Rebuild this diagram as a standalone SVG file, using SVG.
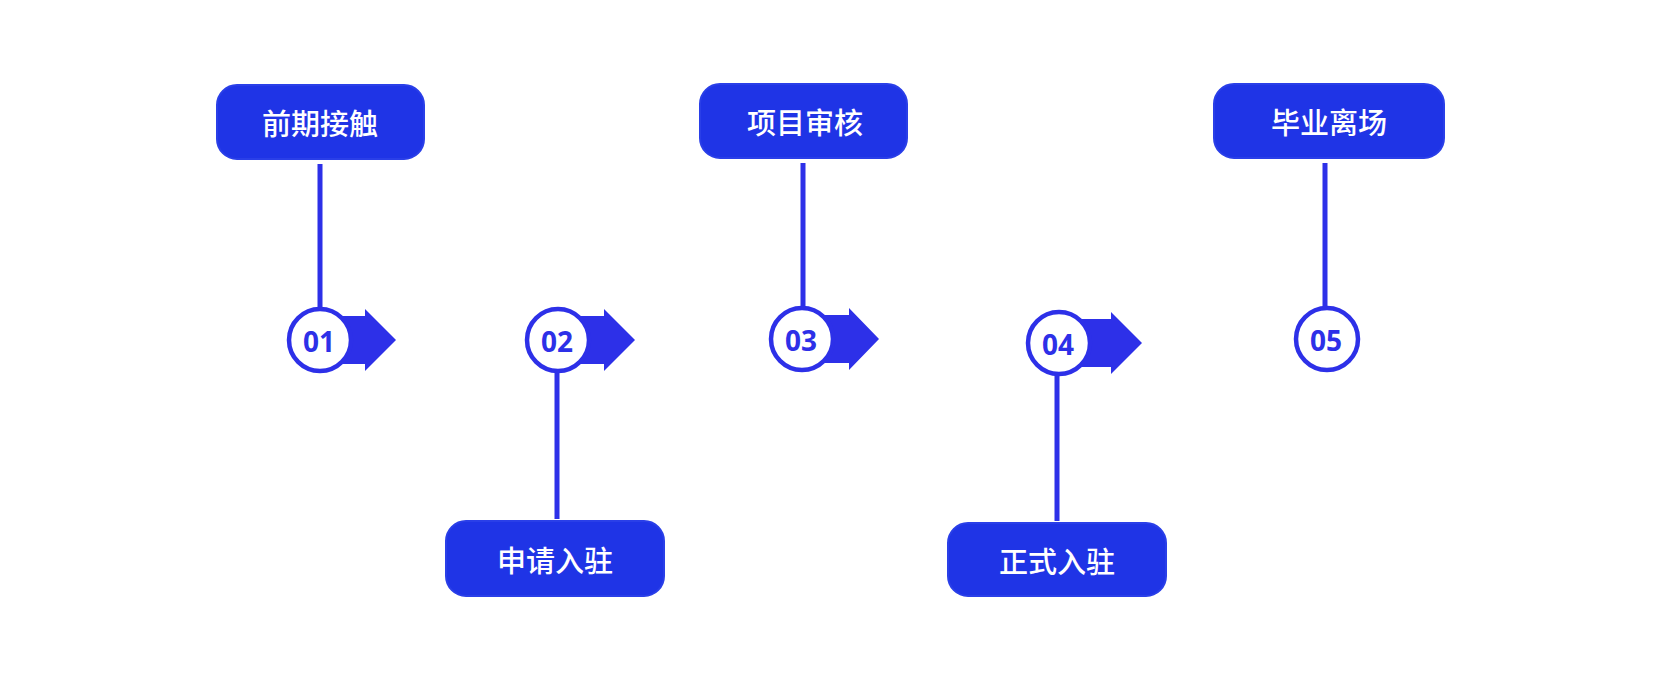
<svg xmlns="http://www.w3.org/2000/svg" width="1661" height="685" viewBox="0 0 1661 685">
<style>
.box{fill:#1f34e6;stroke:#2a3fe8;stroke-width:2}
.lbl{font-family:"Noto Sans CJK SC","Noto Sans",sans-serif;font-size:29px;fill:#fff;text-anchor:middle;dominant-baseline:central;font-weight:500}
.ln{stroke:#2d30e8;stroke-width:5}
.c{fill:#fff;stroke:#2d30e8;stroke-width:4.5}
.ar{fill:#2d30e8}
.num{font-family:"Noto Sans","Open Sans",sans-serif;font-size:28px;font-weight:bold;fill:#2d30e8;text-anchor:middle;dominant-baseline:central}
</style>
<rect width="1661" height="685" fill="#fff"/>
<g id="connectors">
<line class="ln" x1="320" y1="164" x2="320" y2="310"/>
<line class="ln" x1="557" y1="370" x2="557" y2="519"/>
<line class="ln" x1="803" y1="163" x2="803" y2="309"/>
<line class="ln" x1="1057" y1="374" x2="1057" y2="521"/>
<line class="ln" x1="1325" y1="163" x2="1325" y2="309"/>
</g>
<g id="n1"><rect class="box" x="217" y="85" width="207" height="74" rx="20"/><text class="lbl" x="320" y="122">前期接触</text></g>
<g id="n2"><rect class="box" x="446" y="521" width="218" height="75" rx="20"/><text class="lbl" x="555" y="559">申请入驻</text></g>
<g id="n3"><rect class="box" x="700" y="84" width="207" height="74" rx="20"/><text class="lbl" x="805" y="121">项目审核</text></g>
<g id="n4"><rect class="box" x="948" y="523" width="218" height="73" rx="20"/><text class="lbl" x="1057" y="560">正式入驻</text></g>
<g id="n5"><rect class="box" x="1214" y="84" width="230" height="74" rx="20"/><text class="lbl" x="1329" y="121">毕业离场</text></g>
<g id="s1"><path class="ar" d="M330 316H365V309L396 340L365 371V364H330Z"/><circle class="c" cx="320" cy="340" r="31"/><text class="num" x="319" y="341">01</text></g>
<g id="s2"><path class="ar" d="M568 316H604V309L635 340L604 371V364H568Z"/><circle class="c" cx="558" cy="340" r="31"/><text class="num" x="557" y="341">02</text></g>
<g id="s3"><path class="ar" d="M812 315H849V308L879 339L849 370V363H812Z"/><circle class="c" cx="802" cy="339" r="31"/><text class="num" x="801" y="340">03</text></g>
<g id="s4"><path class="ar" d="M1069 319H1111V312L1142 343L1111 374V367H1069Z"/><circle class="c" cx="1059" cy="343" r="31"/><text class="num" x="1058" y="344">04</text></g>
<g id="s5"><circle class="c" cx="1327" cy="339" r="31"/><text class="num" x="1326" y="340">05</text></g>
</svg>
